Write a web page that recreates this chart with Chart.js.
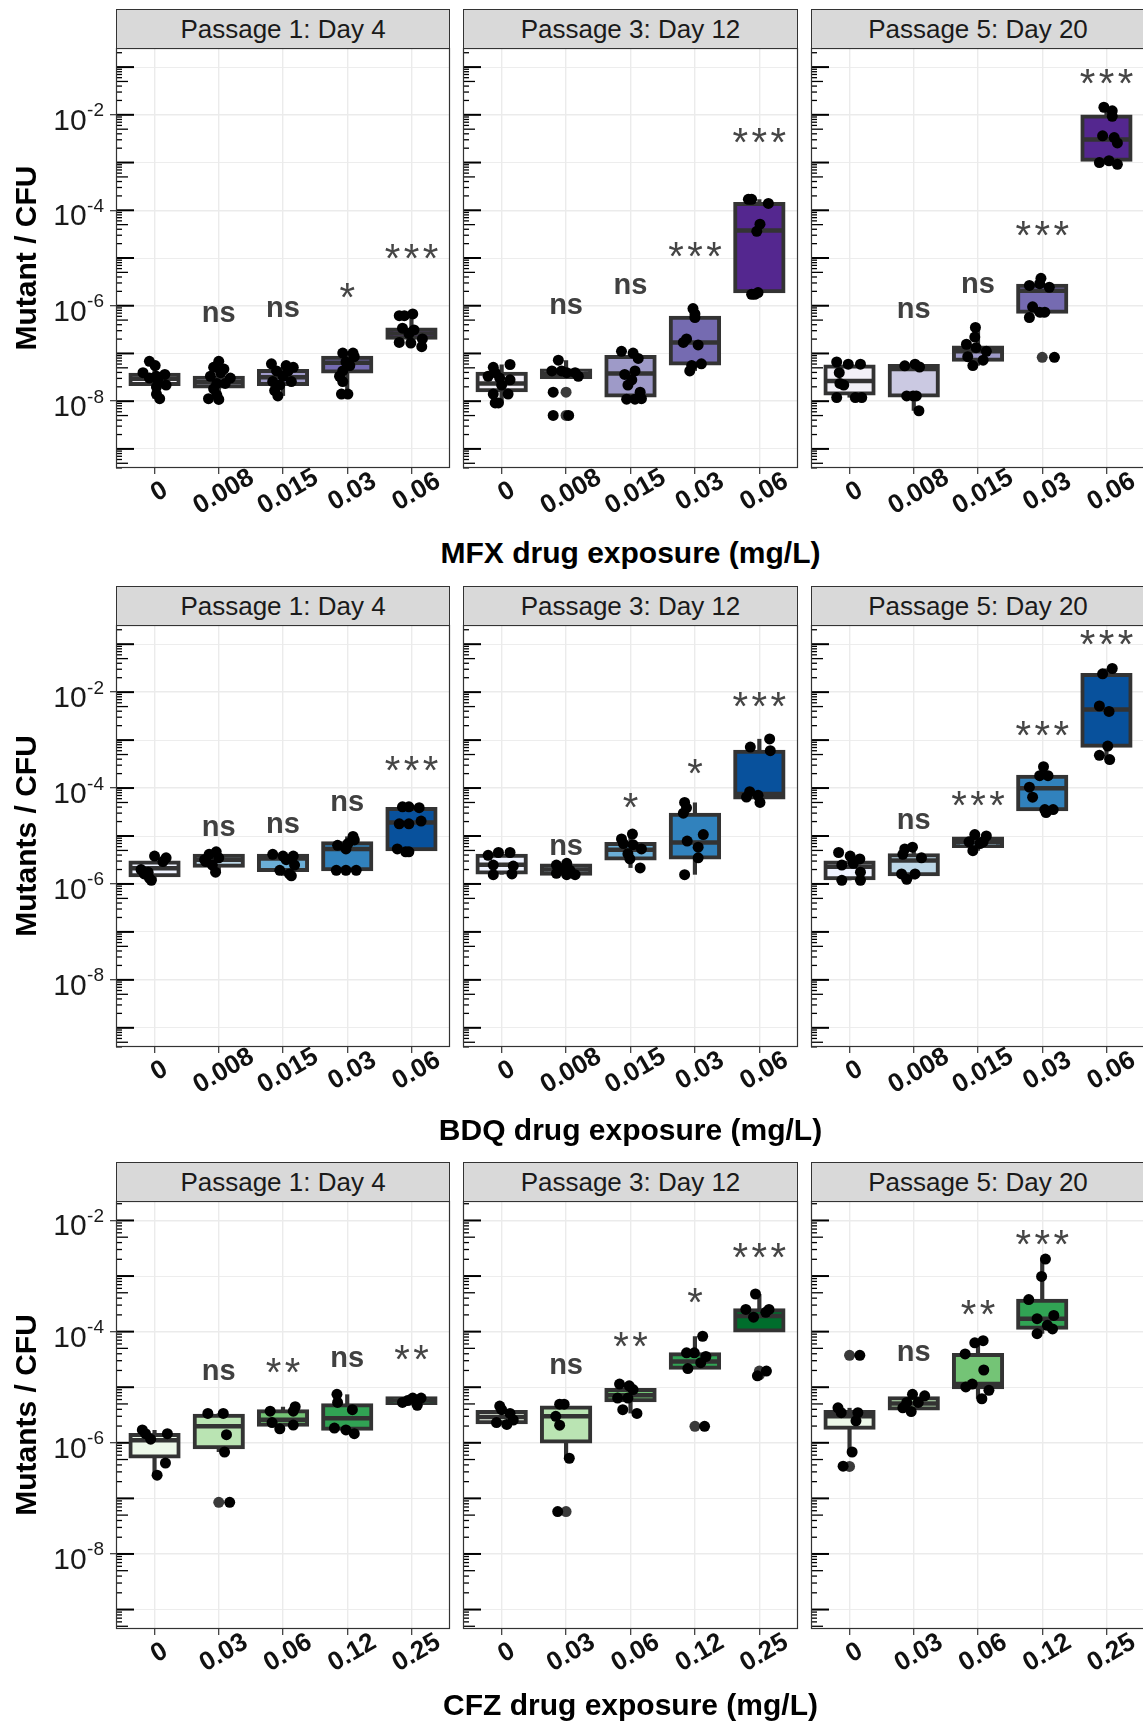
<!DOCTYPE html>
<html>
<head>
<meta charset="utf-8">
<title>Mutant frequency by drug exposure</title>
<script src="https://cdn.jsdelivr.net/npm/chart.js@4.4.1/dist/chart.umd.min.js"></script>
<style>
  html, body { margin: 0; padding: 0; background: #fff; }
  body { position: relative; width: 1143px; height: 1726px; overflow: hidden; font-family: 'Liberation Sans', Arial, sans-serif; }
  canvas { position: absolute; }
  .strip { position: absolute; box-sizing: border-box; background: #d9d9d9; border: 1px solid #333; color: #1a1a1a; font-size: 26px; display: flex; align-items: center; justify-content: center; }
  .xtitle { position: absolute; height: 36px; line-height: 36px; text-align: center; font-weight: bold; font-size: 30px; color: #000; white-space: nowrap; }
  .ytitle { position: absolute; width: 440px; height: 36px; line-height: 36px; text-align: center; font-weight: bold; font-size: 30px; color: #000; transform: rotate(-90deg); white-space: nowrap; }
</style>
</head>
<body>
<script>
// ---- categories and labels ----
const passages = ['Passage 1: Day 4', 'Passage 3: Day 12', 'Passage 5: Day 20'];
const mfxDoses = ['0', '0.008', '0.015', '0.03', '0.06'];
const bdqDoses = ['0', '0.008', '0.015', '0.03', '0.06'];
const cfzDoses = ['0', '0.03', '0.06', '0.12', '0.25'];
const xAxisTitles = ['MFX drug exposure (mg/L)', 'BDQ drug exposure (mg/L)', 'CFZ drug exposure (mg/L)'];
const yAxisTitles = ['Mutant / CFU', 'Mutants / CFU', 'Mutants / CFU'];
const labelledExponents = [-2, -4, -6, -8];

const purpleFills = ['#F2F0F7', '#CBC9E2', '#9E9AC8', '#756BB1', '#54278F'];
const blueFills = ['#EFF3FF', '#BDD7E7', '#6BAED6', '#3182BD', '#08519C'];
const greenFills = ['#EDF8E9', '#BAE4B3', '#74C476', '#31A354', '#006D2C'];

// ---- box summaries per dose: [lower whisker, Q1, median, Q3, upper whisker] ----
const mfxP1Boxes = [
  [1.13e-8, 2.3e-8, 2.95e-8, 3.6e-8, 6.85e-8],
  [1.09e-8, 2.02e-8, 2.49e-8, 3.11e-8, 6.85e-8],
  [1.29e-8, 2.28e-8, 3.16e-8, 4.3e-8, 6.08e-8],
  [1.41e-8, 4.17e-8, 6.4e-8, 8.1e-8, 1.02e-7],
  [1.39e-7, 2.13e-7, 2.62e-7, 3.16e-7, 6.73e-7]
];
const mfxP3Boxes = [
  [9.18e-9, 1.7e-8, 2.36e-8, 3.76e-8, 5.87e-8],
  [3.0e-8, 3.21e-8, 3.76e-8, 4.39e-8, 7.21e-8],
  [1.1e-8, 1.31e-8, 3.82e-8, 8.4e-8, 1.11e-7],
  [4.31e-8, 6.18e-8, 1.7e-7, 5.57e-7, 8.71e-7],
  [1.73e-6, 2.02e-6, 3.76e-5, 1.36e-4, 1.7e-4]
];
const mfxP5Boxes = [
  [1.19e-8, 1.44e-8, 2.66e-8, 5.3e-8, 6.62e-8],
  [6.3e-9, 1.31e-8, 4.7e-8, 5.48e-8, 5.95e-8],
  [5.57e-8, 7.34e-8, 1.11e-7, 1.34e-7, 3.51e-7],
  [5.67e-7, 7.47e-7, 2.06e-6, 2.62e-6, 3.76e-6],
  [9.18e-4, 1.15e-3, 3.05e-3, 9.18e-3, 1.44e-2]
];
const bdqP1Boxes = [
  [1.19e-6, 1.51e-6, 2.13e-6, 2.8e-6, 3.81e-6],
  [1.76e-6, 2.4e-6, 3.21e-6, 3.88e-6, 4.69e-6],
  [1.48e-6, 1.95e-6, 3.38e-6, 3.88e-6, 4.15e-6],
  [1.92e-6, 2.02e-6, 5.37e-6, 7.06e-6, 9.8e-6],
  [4.69e-6, 5.28e-6, 1.91e-5, 3.67e-5, 4.07e-5]
];
const bdqP3Boxes = [
  [1.56e-6, 1.73e-6, 2.52e-6, 3.88e-6, 4.53e-6],
  [1.56e-6, 1.64e-6, 1.99e-6, 2.44e-6, 2.7e-6],
  [2.16e-6, 3.38e-6, 5.19e-6, 6.84e-6, 1.1e-5],
  [1.56e-6, 3.56e-6, 7.31e-6, 2.79e-5, 5.0e-5],
  [5.0e-5, 6.36e-5, 7.55e-5, 5.71e-4, 1.06e-3]
];
const bdqP5Boxes = [
  [1.19e-6, 1.32e-6, 2.28e-6, 2.8e-6, 4.53e-6],
  [1.25e-6, 1.59e-6, 3.1e-6, 3.95e-6, 5.86e-6],
  [4.93e-6, 6.16e-6, 7.57e-6, 8.83e-6, 1.07e-5],
  [3.09e-5, 3.6e-5, 9.93e-5, 1.72e-4, 2.78e-4],
  [3.92e-4, 7.65e-4, 4.32e-3, 2.29e-2, 3.11e-2]
];
const cfzP1Boxes = [
  [2.62e-7, 5.69e-7, 1.11e-6, 1.38e-6, 1.7e-6],
  [6.83e-7, 8.33e-7, 1.98e-6, 3.08e-6, 3.38e-6],
  [1.78e-6, 2.11e-6, 2.61e-6, 3.7e-6, 4.45e-6],
  [1.46e-6, 1.78e-6, 2.77e-6, 4.72e-6, 7.44e-6],
  [4.72e-6, 5.18e-6, 5.75e-6, 6.31e-6, 6.39e-6]
];
const cfzP3Boxes = [
  [2.14e-6, 2.34e-6, 2.9e-6, 3.59e-6, 4.58e-6],
  [5.27e-7, 1.06e-6, 2.99e-6, 4.3e-6, 4.94e-6],
  [3.38e-6, 5.85e-6, 7.13e-6, 8.95e-6, 1.14e-5],
  [2.16e-5, 2.23e-5, 2.89e-5, 3.92e-5, 8.26e-5],
  [1.05e-4, 1.05e-4, 1.91e-4, 2.43e-4, 4.75e-4]
];
const cfzP5Boxes = [
  [6.83e-7, 1.87e-6, 2.99e-6, 3.59e-6, 4.25e-6],
  [3.64e-6, 4.12e-6, 5.09e-6, 6.31e-6, 7.44e-6],
  [6.2e-6, 9.95e-6, 1.14e-5, 3.8e-5, 6.87e-5],
  [9.18e-5, 1.17e-4, 1.71e-4, 3.61e-4, 2.02e-3],
  null
];

// ---- individual replicates per dose: [horizontal jitter, mutants/CFU] ----
const mfxP1Points = [
  [[-0.08, 6.85e-8], [0.01, 5.57e-8], [-0.18, 3.95e-8], [0.16, 3.63e-8], [0.03, 3.33e-8], [-0.08, 3.05e-8], [0.05, 2.81e-8], [0.18, 2.17e-8], [0.03, 1.99e-8], [0.03, 1.41e-8], [0.08, 1.13e-8]],
  [[0, 6.85e-8], [-0.08, 5.12e-8], [0.08, 4.7e-8], [0.03, 3.95e-8], [-0.13, 3.33e-8], [0.18, 3.05e-8], [0.1, 2.36e-8], [-0.03, 2.36e-8], [-0.08, 1.82e-8], [-0.03, 1.34e-8], [-0.16, 1.13e-8], [0, 1.09e-8]],
  [[-0.18, 6.08e-8], [0.05, 5.57e-8], [0.16, 5.12e-8], [-0.1, 4.31e-8], [0.08, 4.31e-8], [0, 3.33e-8], [-0.16, 2.57e-8], [0.13, 2.57e-8], [-0.05, 2.17e-8], [-0.13, 1.67e-8], [-0.08, 1.29e-8]],
  [[-0.07, 1.02e-7], [0.09, 1.02e-7], [0.11, 8.57e-8], [-0.02, 6.62e-8], [0.04, 5.57e-8], [-0.07, 4.31e-8], [-0.12, 3.33e-8], [-0.07, 2.57e-8], [-0.09, 1.41e-8], [0.01, 1.41e-8]],
  [[0.02, 6.73e-7], [-0.19, 6.18e-7], [-0.11, 6.18e-7], [-0.14, 3.39e-7], [0.04, 3.11e-7], [-0.04, 2.62e-7], [0.17, 2.02e-7], [-0.19, 1.7e-7], [-0.01, 1.65e-7], [0.16, 1.39e-7]]
];
const mfxP3Points = [
  [[-0.13, 5.12e-8], [0.13, 5.87e-8], [-0.1, 3.95e-8], [-0.21, 3.33e-8], [-0.03, 3.05e-8], [0.13, 2.81e-8], [0, 2.17e-8], [-0.13, 1.41e-8], [0.1, 1.41e-8], [-0.1, 9.18e-9], [-0.05, 9.18e-9]],
  [[-0.12, 7.21e-8], [-0.22, 4.31e-8], [-0.07, 4.31e-8], [0.01, 3.95e-8], [0.14, 3.95e-8], [0.19, 3.33e-8], [-0.2, 1.54e-8], [-0.2, 5.03e-9], [0.04, 5.03e-9]],
  [[-0.14, 1.11e-7], [0.04, 1.02e-7], [0.12, 7.87e-8], [0.07, 4.31e-8], [-0.09, 3.63e-8], [0.02, 2.81e-8], [-0.04, 2.17e-8], [0.15, 1.54e-8], [-0.06, 1.1e-8], [0.07, 1.1e-8], [0.17, 1.13e-8]],
  [[-0.03, 8.71e-7], [0, 6.73e-7], [0, 5.67e-7], [-0.13, 2.02e-7], [-0.18, 1.7e-7], [0.05, 1.51e-7], [0.1, 6.08e-8], [-0.05, 5.57e-8], [-0.08, 4.31e-8]],
  [[-0.17, 1.7e-4], [-0.12, 1.7e-4], [0.14, 1.39e-4], [0.01, 5.12e-5], [-0.04, 3.63e-5], [-0.12, 1.73e-6], [-0.02, 1.89e-6], [-0.07, 1.73e-6]]
];
const mfxP5Points = [
  [[-0.2, 6.62e-8], [-0.02, 5.95e-8], [0.17, 5.95e-8], [-0.16, 3.95e-8], [-0.15, 2.36e-8], [-0.09, 2.17e-8], [-0.2, 1.19e-8], [0.09, 1.19e-8], [0.19, 1.19e-8]],
  [[-0.14, 5.5e-8], [0.02, 5.95e-8], [0.09, 5.2e-8], [-0.11, 1.29e-8], [-0.01, 1.29e-8], [0.04, 1.29e-8], [0.08, 6.3e-9]],
  [[-0.04, 3.51e-7], [-0.05, 2.2e-7], [-0.18, 1.56e-7], [-0.03, 1.32e-7], [0.13, 1.11e-7], [-0.16, 8.57e-8], [0.08, 7.21e-8], [-0.08, 5.57e-8]],
  [[-0.2, 2.66e-6], [-0.02, 3.76e-6], [-0.04, 2.9e-6], [0.11, 2.44e-6], [-0.15, 9.5e-7], [-0.04, 7.34e-7], [0.04, 7.34e-7], [-0.2, 5.67e-7], [0.19, 8.28e-8]],
  [[-0.04, 1.44e-2], [0.09, 1.21e-2], [0.09, 9.3e-3], [-0.06, 3.63e-3], [0.12, 3.33e-3], [0.17, 2.57e-3], [-0.11, 1.0e-3], [0.04, 1.09e-3], [0.17, 9.18e-4]]
];
const bdqP1Points = [
  [[0, 3.81e-6], [0.18, 3.5e-6], [0.13, 2.94e-6], [-0.21, 1.99e-6], [-0.1, 1.76e-6], [-0.16, 1.62e-6], [-0.08, 1.32e-6], [-0.05, 1.19e-6]],
  [[-0.04, 4.69e-6], [-0.15, 4.15e-6], [0, 3.5e-6], [-0.2, 2.94e-6], [-0.1, 2.48e-6], [-0.22, 3.2e-6], [-0.05, 1.76e-6]],
  [[-0.16, 4.15e-6], [0, 3.81e-6], [0.16, 3.81e-6], [0.05, 3.21e-6], [0.18, 2.48e-6], [-0.05, 1.92e-6], [0.1, 1.62e-6], [0.13, 1.48e-6]],
  [[0.09, 9.8e-6], [0.11, 8.26e-6], [0.01, 6.95e-6], [-0.15, 6.39e-6], [-0.02, 5.37e-6], [-0.17, 1.92e-6], [-0.02, 1.92e-6], [0.14, 1.92e-6]],
  [[-0.14, 4.07e-5], [0.12, 3.9e-5], [-0.04, 4.07e-5], [0.15, 2.05e-5], [-0.19, 1.79e-5], [-0.04, 1.79e-5], [-0.22, 5.37e-6], [-0.09, 4.69e-6], [-0.04, 4.69e-6]]
];
const bdqP3Points = [
  [[-0.05, 4.53e-6], [0.13, 4.53e-6], [-0.21, 3.95e-6], [-0.13, 2.48e-6], [0.18, 2.36e-6], [0.16, 1.62e-6], [-0.13, 1.56e-6]],
  [[0.01, 2.7e-6], [-0.15, 2.48e-6], [-0.04, 2.09e-6], [0.06, 1.92e-6], [-0.15, 1.67e-6], [0.14, 1.56e-6], [0.01, 1.56e-6]],
  [[0.03, 1.1e-5], [-0.14, 8.7e-6], [-0.11, 6.95e-6], [0.04, 6.6e-6], [0.17, 5.37e-6], [-0.04, 4.29e-6], [-0.01, 3.33e-6], [0.15, 2.16e-6]],
  [[-0.16, 5.0e-5], [-0.13, 3.86e-5], [-0.18, 2.99e-5], [0.13, 1.07e-5], [-0.12, 7.83e-6], [0.05, 5.85e-6], [0.05, 3.5e-6], [-0.16, 1.56e-6]],
  [[0.16, 1.06e-3], [-0.14, 7.14e-4], [0.17, 6.01e-4], [-0.15, 8.38e-5], [-0.02, 7.05e-5], [-0.2, 6.47e-5], [0.01, 5.0e-5]]
];
const bdqP5Points = [
  [[-0.17, 4.53e-6], [0.01, 3.81e-6], [0.16, 3.33e-6], [0.06, 2.7e-6], [-0.12, 2.48e-6], [0.17, 1.76e-6], [-0.12, 1.19e-6], [0.17, 1.19e-6]],
  [[-0.02, 5.86e-6], [-0.14, 5.37e-6], [-0.17, 4.15e-6], [0.12, 3.5e-6], [-0.19, 1.62e-6], [0.02, 1.62e-6], [-0.11, 1.25e-6]],
  [[-0.05, 1.07e-5], [0.13, 1.0e-5], [-0.14, 7.57e-6], [0.03, 6.95e-6], [0.08, 7.57e-6], [-0.08, 4.93e-6]],
  [[0.02, 2.78e-4], [-0.04, 1.81e-4], [0.09, 1.81e-4], [-0.2, 1.04e-4], [-0.15, 6.46e-5], [0.04, 3.55e-5], [0.17, 3.55e-5], [0.06, 3.09e-5]],
  [[0.09, 3.11e-2], [-0.06, 2.41e-2], [-0.11, 5.14e-3], [0.04, 3.97e-3], [0.02, 7.52e-4], [-0.11, 4.81e-4], [0.05, 3.92e-4]]
];
const cfzP1Points = [
  [[-0.19, 1.7e-6], [-0.14, 1.46e-6], [-0.06, 1.16e-6], [0.2, 1.46e-6], [0.17, 4.33e-7], [0.04, 2.62e-7]],
  [[-0.17, 3.38e-6], [0.07, 3.38e-6], [0.12, 1.4e-6], [0.09, 6.83e-7], [0.17, 8.49e-8]],
  [[-0.2, 3.7e-6], [0.19, 4.45e-6], [0.16, 3.7e-6], [-0.17, 2.31e-6], [-0.05, 1.78e-6], [0.16, 2.08e-6]],
  [[-0.16, 7.44e-6], [-0.15, 5.33e-6], [0.08, 3.94e-6], [-0.2, 1.84e-6], [-0.02, 1.7e-6], [0.11, 1.46e-6]],
  [[-0.14, 5.33e-6], [0.02, 6.39e-6], [0.09, 4.72e-6], [0.15, 6.39e-6], [-0.06, 5.75e-6]]
];
const cfzP3Points = [
  [[-0.03, 4.58e-6], [0, 3.94e-6], [0.13, 3.38e-6], [0.18, 2.57e-6], [-0.08, 2.31e-6], [0.08, 2.14e-6]],
  [[-0.1, 4.94e-6], [-0.03, 4.94e-6], [-0.16, 3.0e-6], [-0.1, 2.07e-6], [0.05, 5.27e-7], [-0.13, 5.8e-8]],
  [[-0.17, 1.14e-5], [-0.02, 1.06e-5], [0.04, 9.07e-6], [-0.2, 6.39e-6], [-0.04, 6.39e-6], [-0.12, 3.94e-6], [0.1, 3.38e-6]],
  [[0.12, 8.26e-5], [-0.13, 4.16e-5], [-0.01, 4.16e-5], [0.17, 3.57e-5], [0.09, 2.76e-5], [-0.11, 2.16e-5], [0.15, 1.98e-6]],
  [[-0.06, 4.75e-4], [-0.21, 2.51e-4], [0.15, 2.51e-4], [0.1, 2.22e-4], [-0.09, 1.82e-4], [0.11, 1.95e-5], [-0.03, 1.6e-5]]
];
const cfzP5Points = [
  [[-0.18, 4.25e-6], [-0.13, 3.48e-6], [0.13, 3.48e-6], [0.1, 2.49e-6], [0.16, 3.74e-5], [0.04, 6.83e-7], [-0.1, 3.8e-7]],
  [[-0.02, 7.44e-6], [0.17, 7.0e-6], [-0.11, 5.33e-6], [0.07, 5.33e-6], [-0.17, 4.25e-6], [-0.04, 3.64e-6]],
  [[-0.05, 6.28e-5], [0.08, 6.87e-5], [-0.2, 3.97e-5], [0.09, 2.04e-5], [-0.19, 1.01e-5], [-0.09, 1.14e-5], [0.17, 8.81e-6], [0.06, 6.2e-6]],
  [[0.05, 2.02e-3], [-0.01, 9.86e-4], [-0.21, 3.78e-4], [0.18, 1.96e-4], [-0.08, 1.71e-4], [0.08, 1.3e-4], [0.16, 1.12e-4], [-0.08, 9.18e-5]],
  []
];

// ---- boxplot outliers (drawn on the dose centre line) ----
const mfxP1Outliers = [[], [], [], [], []];
const mfxP3Outliers = [[], [1.54e-8, 5.03e-9], [], [], []];
const mfxP5Outliers = [[], [], [], [8.28e-8], []];
const bdqP1Outliers = [[], [], [], [], []];
const bdqP3Outliers = [[], [], [], [], []];
const bdqP5Outliers = [[], [], [], [], []];
const cfzP1Outliers = [[], [8.49e-8], [], [], []];
const cfzP3Outliers = [[], [5.8e-8], [], [1.98e-6], [1.67e-5, 1.95e-5]];
const cfzP5Outliers = [[3.74e-5, 3.75e-7], [], [], [], []];

// ---- significance vs. untreated: [label, height] ----
const mfxP1Signif = [null, ['ns', 6.73e-7], ['ns', 8.7e-7], ['*', 2.06e-6], ['***', 1.36e-5]];
const mfxP3Signif = [null, ['ns', 9.8e-7], ['ns', 2.53e-6], ['***', 1.49e-5], ['***', 3.76e-3]];
const mfxP5Signif = [null, ['ns', 8.0e-7], ['ns', 2.66e-6], ['***', 4.16e-5], ['***', 6.4e-2]];
const bdqP1Signif = [null, ['ns', 1.5e-5], ['ns', 1.72e-5], ['ns', 4.83e-5], ['***', 3.3e-4]];
const bdqP3Signif = [null, ['ns', 5.85e-6], ['*', 5.63e-5], ['*', 2.88e-4], ['***', 7.0e-3]];
const bdqP5Signif = [null, ['ns', 2.01e-5], ['***', 5.94e-5], ['***', 1.75e-3], ['***', 0.139]];
const cfzP1Signif = [null, ['ns', 1.89e-5], ['**', 2.44e-5], ['ns', 3.21e-5], ['**', 4.16e-5]];
const cfzP3Signif = [null, ['ns', 2.44e-5], ['**', 7.31e-5], ['*', 4.4e-4], ['***', 2.86e-3]];
const cfzP5Signif = [null, ['ns', 4.16e-5], ['**', 2.67e-4], ['***', 5.02e-3], null];

// ---- page layout ----
const FONT = '"Liberation Sans", Arial, Helvetica, sans-serif';
const COLS = [{ left: 116, right: 450 }, { left: 463, right: 798 }, { left: 811, right: 1145 }];
const ROWS = [
  { top: 48, bottom: 468, minExp: -9.4, maxExp: -0.6, xTitleY: 553 },
  { top: 625, bottom: 1047, minExp: -9.4, maxExp: -0.6, xTitleY: 1130 },
  { top: 1201, bottom: 1629, minExp: -9.35, maxExp: -1.65, xTitleY: 1705 }
];
const STRIP_H = 40;

Chart.defaults.font.family = FONT;

function textCenterBaseline(ctx, text, yCenter) {
  const m = ctx.measureText(text);
  return yCenter + (m.actualBoundingBoxAscent - m.actualBoundingBoxDescent) / 2;
}

function decorPlugin(cfg) {
  return {
    id: 'panelDecor',
    beforeDatasetsDraw(chart) {
      // log ticks along the inside of the left panel edge
      const { ctx, chartArea: a, scales: { y } } = chart;
      ctx.save();
      ctx.strokeStyle = '#000';
      for (let e = Math.floor(cfg.minExp); e <= Math.ceil(cfg.maxExp); e++) {
        for (let m = 1; m <= 9; m++) {
          const p = y.getPixelForValue(m * Math.pow(10, e));
          if (p < a.top || p > a.bottom) continue;
          const len = m === 1 ? 18 : (m === 5 ? 12 : 6);
          ctx.lineWidth = m === 1 ? 2 : 1.3;
          ctx.beginPath();
          ctx.moveTo(a.left, p);
          ctx.lineTo(a.left + len, p);
          ctx.stroke();
        }
      }
      ctx.restore();
    },
    afterDatasetsDraw(chart) {
      // significance annotations
      const { ctx, scales: { x, y } } = chart;
      ctx.save();
      ctx.textAlign = 'center';
      ctx.textBaseline = 'alphabetic';
      cfg.signif.forEach((s, i) => {
        if (!s) return;
        const px = x.getPixelForValue(i);
        const py = y.getPixelForValue(s[1]);
        if (s[0] === 'ns') {
          ctx.fillStyle = '#404040';
          ctx.font = 'bold 29px ' + FONT;
          ctx.fillText(s[0], px, textCenterBaseline(ctx, s[0], py));
        } else {
          ctx.fillStyle = '#454545';
          ctx.font = '40px ' + FONT;
          const n = s[0].length;
          const base = textCenterBaseline(ctx, '*', py);
          for (let k = 0; k < n; k++) {
            ctx.fillText('*', px + (k - (n - 1) / 2) * 19, base);
          }
        }
      });
      ctx.restore();
    },
    afterDraw(chart) {
      const { ctx, chartArea: a, scales: { x, y } } = chart;
      ctx.save();
      // panel frame
      ctx.strokeStyle = '#333';
      ctx.lineWidth = 1.2;
      ctx.strokeRect(a.left + 0.5, a.top + 0.5, a.right - a.left - 1, a.bottom - a.top - 1);
      // rotated dose labels
      ctx.fillStyle = '#111';
      ctx.font = 'bold 26px ' + FONT;
      ctx.textAlign = 'center';
      ctx.textBaseline = 'middle';
      cfg.doses.forEach((lab, i) => {
        const px = x.getPixelForValue(i);
        ctx.save();
        ctx.translate(px + 5, a.bottom + 24);
        ctx.rotate(-Math.PI / 6);
        ctx.fillText(lab, 0, 0);
        ctx.restore();
      });
      // 10^k labels on the first panel of each row
      if (cfg.showY) {
        ctx.fillStyle = '#1a1a1a';
        ctx.textBaseline = 'alphabetic';
        ctx.textAlign = 'right';
        labelledExponents.forEach(e => {
          const p = y.getPixelForValue(Math.pow(10, e));
          const expStr = String(e);
          ctx.font = '19px ' + FONT;
          const ew = ctx.measureText(expStr).width;
          const expRight = a.left - 12;
          ctx.fillText(expStr, expRight, textCenterBaseline(ctx, '2', p - 5));
          ctx.font = '30px ' + FONT;
          ctx.fillText('10', expRight - ew - 0.5, textCenterBaseline(ctx, '10', p + 5));
        });
      }
      ctx.restore();
    }
  };
}

function buildPanel(r, c, doses, fills, boxes, points, outliers, signif) {
  const row = ROWS[r], col = COLS[c];
  const canvasLeft = c === 0 ? 0 : col.left - 6;
  const yWidth = col.left - canvasLeft;
  const w = col.right + 2 - canvasLeft;
  const xHeight = 66;
  const h = (row.bottom - row.top) + 2 + xHeight;
  const canvas = document.createElement('canvas');
  canvas.width = w; canvas.height = h;
  canvas.style.left = canvasLeft + 'px';
  canvas.style.top = (row.top - 2) + 'px';
  canvas.style.width = w + 'px';
  canvas.style.height = h + 'px';
  document.body.appendChild(canvas);

  const whiskerData = [], boxData = [], medianData = [];
  boxes.forEach((b, i) => {
    if (!b) return;
    whiskerData.push({ x: i, y: [b[0], b[4]] });
    boxData.push({ x: i, y: [b[1], b[3]] });
    medianData.push({ x: i, y: b[2] });
  });
  const outlierData = outliers.flatMap((arr, i) => arr.map(v => ({ x: i, y: v })));
  const pointData = points.flatMap((arr, i) => arr.map(p => ({ x: i + p[0], y: p[1] })));

  const decades = [];
  for (let e = Math.ceil(row.minExp); e <= Math.floor(row.maxExp); e++) decades.push(Math.pow(10, e));
  const isEven = v => Math.round(Math.log10(v)) % 2 === 0;

  new Chart(canvas, {
    type: 'bar',
    data: {
      datasets: [
        { type: 'bar', data: whiskerData, backgroundColor: '#333', borderWidth: 0, grouped: false,
          barPercentage: 0.065, categoryPercentage: 1, order: 5 },
        { type: 'bar', data: boxData,
          backgroundColor: ctx => (ctx.raw ? fills[ctx.raw.x] : '#fff'),
          borderColor: '#333', borderWidth: 4, borderSkipped: false, inflateAmount: 2,
          grouped: false, barPercentage: 0.75, categoryPercentage: 1, order: 4 },
        { type: 'scatter', data: medianData, pointStyle: 'line', pointRadius: 24.1,
          pointBorderWidth: 4.5, pointBorderColor: '#333', pointBackgroundColor: '#333', order: 3 },
        { type: 'scatter', data: outlierData, pointRadius: 5.5, pointBackgroundColor: '#3a3a3a',
          pointBorderWidth: 0, order: 2 },
        { type: 'scatter', data: pointData, pointRadius: 5.5, pointBackgroundColor: '#000',
          pointBorderWidth: 0, order: 1 }
      ]
    },
    options: {
      responsive: false,
      animation: false,
      devicePixelRatio: 1,
      events: [],
      layout: { padding: { top: 2, right: 2, left: 0, bottom: 0 }, autoPadding: false },
      plugins: { legend: { display: false }, tooltip: { enabled: false } },
      scales: {
        x: {
          type: 'linear', min: -0.6, max: 4.6, offset: false,
          afterBuildTicks: s => { s.ticks = doses.map((_, i) => ({ value: i })); },
          afterFit: s => { s.height = xHeight; },
          ticks: { display: false },
          grid: { offset: false, color: '#ebebeb', lineWidth: 1.4, drawTicks: true, tickLength: 6,
                  tickColor: '#333', tickWidth: 1.2 },
          border: { display: false }
        },
        y: {
          type: 'logarithmic', min: Math.pow(10, row.minExp), max: Math.pow(10, row.maxExp),
          afterBuildTicks: s => { s.ticks = decades.map(v => ({ value: v })); },
          afterFit: s => { s.width = yWidth; },
          ticks: { display: false },
          grid: {
            color: '#ebebeb',
            lineWidth: ctx => (ctx.tick && isEven(ctx.tick.value) ? 1.4 : 0.9),
            drawTicks: c === 0, tickLength: 6, tickWidth: 1.2,
            tickColor: ctx => (ctx.tick && isEven(ctx.tick.value) ? '#333' : 'rgba(0,0,0,0)')
          },
          border: { display: false }
        }
      }
    },
    plugins: [decorPlugin({ minExp: row.minExp, maxExp: row.maxExp, doses, signif, showY: c === 0 })]
  });

  // facet strip
  const strip = document.createElement('div');
  strip.className = 'strip';
  strip.style.left = col.left + 'px';
  strip.style.top = (row.top - STRIP_H + 1) + 'px';
  strip.style.width = (col.right - col.left) + 'px';
  strip.style.height = STRIP_H + 'px';
  strip.textContent = passages[c];
  document.body.appendChild(strip);
}

function buildRowTitles(r) {
  const row = ROWS[r];
  const xt = document.createElement('div');
  xt.className = 'xtitle';
  xt.style.left = COLS[0].left + 'px';
  xt.style.width = (COLS[2].right - COLS[0].left) + 'px';
  xt.style.top = (row.xTitleY - 18) + 'px';
  xt.textContent = xAxisTitles[r];
  document.body.appendChild(xt);

  const yt = document.createElement('div');
  yt.className = 'ytitle';
  yt.style.left = (26 - 220) + 'px';
  yt.style.top = ((row.top + row.bottom) / 2 - 18) + 'px';
  yt.textContent = yAxisTitles[r];
  document.body.appendChild(yt);
}

buildPanel(0, 0, mfxDoses, purpleFills, mfxP1Boxes, mfxP1Points, mfxP1Outliers, mfxP1Signif);
buildPanel(0, 1, mfxDoses, purpleFills, mfxP3Boxes, mfxP3Points, mfxP3Outliers, mfxP3Signif);
buildPanel(0, 2, mfxDoses, purpleFills, mfxP5Boxes, mfxP5Points, mfxP5Outliers, mfxP5Signif);
buildPanel(1, 0, bdqDoses, blueFills, bdqP1Boxes, bdqP1Points, bdqP1Outliers, bdqP1Signif);
buildPanel(1, 1, bdqDoses, blueFills, bdqP3Boxes, bdqP3Points, bdqP3Outliers, bdqP3Signif);
buildPanel(1, 2, bdqDoses, blueFills, bdqP5Boxes, bdqP5Points, bdqP5Outliers, bdqP5Signif);
buildPanel(2, 0, cfzDoses, greenFills, cfzP1Boxes, cfzP1Points, cfzP1Outliers, cfzP1Signif);
buildPanel(2, 1, cfzDoses, greenFills, cfzP3Boxes, cfzP3Points, cfzP3Outliers, cfzP3Signif);
buildPanel(2, 2, cfzDoses, greenFills, cfzP5Boxes, cfzP5Points, cfzP5Outliers, cfzP5Signif);
[0, 1, 2].forEach(buildRowTitles);
</script>
</body>
</html>
